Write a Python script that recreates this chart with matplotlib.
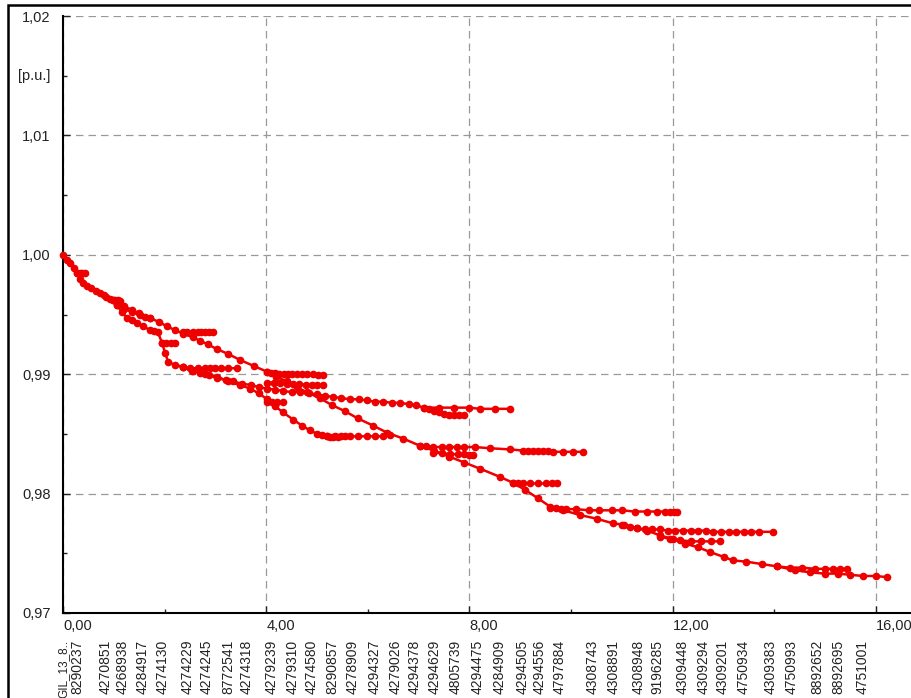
import matplotlib
matplotlib.use("Agg")
import matplotlib.pyplot as plt
import matplotlib.transforms as mtransforms
from matplotlib.patches import Rectangle

plt.rcParams['font.family'] = ['Liberation Sans', 'DejaVu Sans']

# --- voltage profile data: distance [km], voltage [p.u.] per feeder branch ---
trunk_d = [0.00, 0.07, 0.14, 0.21, 0.28, 0.34, 0.39, 0.47, 0.55, 0.64, 0.73, 0.80, 0.85, 0.92, 0.98, 1.06]
trunk_v = [1.0000, 0.9996, 0.9993, 0.9989, 0.9985, 0.9980, 0.9976, 0.9974, 0.9972, 0.9970, 0.9968, 0.9966, 0.9965, 0.9963, 0.9962, 0.9960]

stub1_d = [0.28, 0.33, 0.38, 0.43]
stub1_v = [0.9985, 0.9985, 0.9985, 0.9985]

stub2_d = [0.98, 1.03, 1.08, 1.12]
stub2_v = [0.9962, 0.9962, 0.9962, 0.9961]

main_d = [1.06, 1.20, 1.35, 1.50, 1.71, 1.88, 2.05, 2.20, 2.36, 2.55, 2.70, 2.85, 3.03, 3.25, 3.48, 3.75,
          4.02, 4.20, 4.40, 4.60, 4.80, 5.05, 5.30, 5.55, 5.80, 6.10, 6.38, 6.70, 7.03, 7.30, 7.60, 7.90,
          8.20, 8.60, 8.86, 9.10, 9.35, 9.59, 9.85, 10.18, 10.50, 10.83, 11.05, 11.30, 11.50, 11.75, 12.00,
          12.25, 12.50, 12.74, 13.00, 13.19, 13.45, 13.75, 14.06, 14.40, 14.70, 15.00, 15.25, 15.49, 15.75,
          16.00, 16.22]
main_v = [0.9960, 0.9957, 0.9954, 0.9951, 0.9947, 0.9944, 0.9940, 0.9937, 0.9934, 0.9931, 0.9928, 0.9925,
          0.9921, 0.9917, 0.9912, 0.9907, 0.9902, 0.9898, 0.9894, 0.9889, 0.9885, 0.9880, 0.9874, 0.9869,
          0.9863, 0.9857, 0.9851, 0.9846, 0.9840, 0.9836, 0.9831, 0.9826, 0.9821, 0.9814, 0.9809, 0.9803,
          0.9796, 0.9789, 0.9786, 0.9782, 0.9779, 0.9775, 0.9774, 0.9771, 0.9769, 0.9765, 0.9762, 0.9758,
          0.9755, 0.9751, 0.9747, 0.9744, 0.9743, 0.9741, 0.9739, 0.9736, 0.9734, 0.9733, 0.9733, 0.9732,
          0.9731, 0.9731, 0.9730]

br_9935_d = [2.36, 2.45, 2.55, 2.65, 2.72, 2.80, 2.88, 2.95]
br_9935_v = [0.9935, 0.9935, 0.9935, 0.9935, 0.9935, 0.9935, 0.9935, 0.9935]

upper_d = [1.06, 1.20, 1.35, 1.52, 1.62, 1.71]
upper_v = [0.9958, 0.9955, 0.9952, 0.9950, 0.9948, 0.9947]

lower_d = [1.06, 1.16, 1.26, 1.36, 1.46, 1.58, 1.71, 1.80, 1.87, 1.95, 2.01, 2.07, 2.20, 2.36, 2.55, 2.80,
           3.03, 3.25, 3.48, 3.68, 3.85, 4.02, 4.18, 4.33, 4.53, 4.70, 4.86, 5.00, 5.10, 5.20]
lower_v = [0.9958, 0.9952, 0.9947, 0.9945, 0.9943, 0.9940, 0.9937, 0.9936, 0.9935, 0.9926, 0.9918, 0.9910,
           0.9908, 0.9906, 0.9903, 0.9900, 0.9898, 0.9894, 0.9891, 0.9888, 0.9884, 0.9879, 0.9873, 0.9868,
           0.9862, 0.9857, 0.9853, 0.9850, 0.9849, 0.9848]

br_9848_d = [5.20, 5.26, 5.31, 5.36, 5.42, 5.48, 5.55, 5.65, 5.80, 5.98, 6.15, 6.30, 6.44]
br_9848_v = [0.9848, 0.9847, 0.9847, 0.9848, 0.9847, 0.9848, 0.9848, 0.9848, 0.9848, 0.9848, 0.9848, 0.9848, 0.9849]

br_9926_d = [1.95, 2.03, 2.12, 2.20]
br_9926_v = [0.9926, 0.9926, 0.9926, 0.9926]

br_9905_d = [2.36, 2.50, 2.65, 2.80, 2.90, 3.00, 3.10, 3.25, 3.43]
br_9905_v = [0.9906, 0.9905, 0.9905, 0.9905, 0.9905, 0.9905, 0.9905, 0.9905, 0.9905]

mid_d = [2.36, 2.53, 2.70, 2.87, 3.03, 3.20, 3.35, 3.52, 3.70, 3.86, 4.02, 4.18, 4.33, 4.50, 4.67, 4.84,
         5.00, 5.15, 5.31, 5.48, 5.65, 5.82, 5.98, 6.15, 6.30, 6.48, 6.63, 6.80, 6.95, 7.10, 7.20, 7.30,
         7.40, 7.50, 7.60, 7.70, 7.80, 7.90]
mid_v = [0.9906, 0.9903, 0.9901, 0.9899, 0.9897, 0.9895, 0.9894, 0.9892, 0.9891, 0.9889, 0.9888, 0.9887,
         0.9886, 0.9885, 0.9885, 0.9884, 0.9883, 0.9882, 0.9881, 0.9880, 0.9879, 0.9879, 0.9878, 0.9877,
         0.9877, 0.9876, 0.9876, 0.9875, 0.9874, 0.9872, 0.9871, 0.9869, 0.9868, 0.9867, 0.9866, 0.9866,
         0.9866, 0.9866]

br_9872_d = [7.10, 7.40, 7.70, 8.00, 8.20, 8.50, 8.80]
br_9872_v = [0.9872, 0.9872, 0.9872, 0.9872, 0.9871, 0.9871, 0.9871]

br_9893_d = [4.02, 4.15, 4.28, 4.40, 4.52, 4.65, 4.78, 4.90, 5.00, 5.12]
br_9893_v = [0.9893, 0.9893, 0.9893, 0.9892, 0.9892, 0.9892, 0.9891, 0.9891, 0.9891, 0.9891]

br_9900_d = [4.02, 4.10, 4.18, 4.26, 4.34, 4.42, 4.50, 4.60, 4.70, 4.80, 4.92, 5.02, 5.12]
br_9900_v = [0.9902, 0.9901, 0.9901, 0.9900, 0.9900, 0.9900, 0.9900, 0.9900, 0.9900, 0.9900, 0.9900, 0.9899, 0.9899]

br_9877_d = [4.02, 4.12, 4.22, 4.33]
br_9877_v = [0.9877, 0.9877, 0.9877, 0.9877]

br_9838_d = [7.03, 7.15, 7.28, 7.45, 7.60, 7.75, 7.90, 8.10, 8.40, 8.80, 9.06, 9.15, 9.25, 9.35, 9.45,
             9.55, 9.65, 9.84, 10.04, 10.24]
br_9838_v = [0.9840, 0.9840, 0.9839, 0.9839, 0.9839, 0.9839, 0.9839, 0.9839, 0.9838, 0.9837, 0.9836,
             0.9836, 0.9836, 0.9836, 0.9836, 0.9836, 0.9835, 0.9835, 0.9835, 0.9835]

br_9833_d = [7.28, 7.45, 7.62, 7.78, 7.90, 8.00, 8.07]
br_9833_v = [0.9834, 0.9834, 0.9833, 0.9833, 0.9833, 0.9832, 0.9832]

br_9809_d = [8.86, 8.95, 9.05, 9.20, 9.35, 9.50, 9.62, 9.72]
br_9809_v = [0.9809, 0.9809, 0.9809, 0.9809, 0.9809, 0.9809, 0.9809, 0.9809]

br_9786_d = [9.59, 9.70, 9.80, 9.90, 10.10, 10.35, 10.55, 10.80, 11.00, 11.25, 11.50, 11.70, 11.85, 11.95,
             12.02, 12.09]
br_9786_v = [0.9788, 0.9788, 0.9787, 0.9787, 0.9787, 0.9786, 0.9786, 0.9786, 0.9786, 0.9785, 0.9785,
             0.9785, 0.9785, 0.9785, 0.9785, 0.9785]

br_9768_d = [11.00, 11.15, 11.30, 11.45, 11.60, 11.75, 11.90, 12.05, 12.20, 12.35, 12.50, 12.65, 12.80,
             12.95, 13.10, 13.25, 13.40, 13.55, 13.70, 13.98]
br_9768_v = [0.9774, 0.9772, 0.9771, 0.9770, 0.9770, 0.9770, 0.9769, 0.9769, 0.9769, 0.9769, 0.9769,
             0.9769, 0.9768, 0.9768, 0.9768, 0.9768, 0.9768, 0.9768, 0.9768, 0.9768]

br_9760_d = [11.75, 11.95, 12.15, 12.35, 12.55, 12.75, 12.93]
br_9760_v = [0.9764, 0.9762, 0.9761, 0.9760, 0.9760, 0.9760, 0.9760]

br_end_d = [14.06, 14.30, 14.55, 14.80, 15.00, 15.15, 15.30, 15.43]
br_end_v = [0.9739, 0.9738, 0.9738, 0.9737, 0.9737, 0.9737, 0.9737, 0.9737]

# node names shown along the distance axis
node_names = ['GIL_13_8..', '8290237', '4270851', '4268938', '4284917', '4274130', '4274229', '4274245',
              '8772541', '4274318', '4279239', '4279310', '4274580', '8290857', '4278909', '4294327',
              '4279026', '4294378', '4294629', '4805739', '4294475', '4284909', '4294505', '4294556',
              '4797884', '4308743', '4308891', '4308948', '9196285', '4309448', '4309294', '4309201',
              '4750934', '4309383', '4750993', '8892652', '8892695', '4751001']
node_dist = [0.00, 0.28, 0.83, 1.18, 1.57, 1.97, 2.46, 2.83, 3.25, 3.62, 4.11, 4.51, 4.90, 5.30, 5.71,
             6.14, 6.54, 6.93, 7.32, 7.72, 8.17, 8.60, 9.04, 9.39, 9.78, 10.43, 10.83, 11.32, 11.69,
             12.20, 12.60, 12.99, 13.39, 13.92, 14.35, 14.84, 15.26, 15.73]

x_ticks = [0, 4, 8, 12, 16]
x_labels = ['0,00', '4,00', '8,00', '12,00', '16,00']
y_ticks = [0.97, 0.98, 0.99, 1.00, 1.01, 1.02]
y_labels = ['0,97', '0,98', '0,99', '1,00', '1,01', '1,02']

branches = [
    (trunk_d, trunk_v), (stub1_d, stub1_v), (stub2_d, stub2_v), (main_d, main_v),
    (br_9935_d, br_9935_v), (upper_d, upper_v), (lower_d, lower_v), (br_9848_d, br_9848_v),
    (br_9926_d, br_9926_v), (br_9905_d, br_9905_v), (mid_d, mid_v), (br_9872_d, br_9872_v),
    (br_9893_d, br_9893_v), (br_9900_d, br_9900_v), (br_9877_d, br_9877_v), (br_9838_d, br_9838_v),
    (br_9833_d, br_9833_v), (br_9809_d, br_9809_v), (br_9786_d, br_9786_v), (br_9768_d, br_9768_v),
    (br_9760_d, br_9760_v), (br_end_d, br_end_v),
]

RED = '#ee0000'

fig = plt.figure(figsize=(9.11, 6.98), dpi=100)
ax = fig.add_axes([63 / 911, 1 - 613 / 698, 847 / 911, 597 / 698])

for d, v in branches:
    ax.plot(d, v, color=RED, lw=1.8, marker='o', ms=4.5, mfc=RED, mec=RED, zorder=3, clip_on=False)

ax.set_xlim(0, 16.67)
ax.set_ylim(0.97, 1.02)

ax.set_xticks(x_ticks)
ax.set_xticklabels(x_labels, ha='left')
ax.set_xticks([2, 6, 10, 14], minor=True)
ax.set_yticks(y_ticks)
ax.set_yticklabels(y_labels)
ax.set_yticks([0.975, 0.985, 0.995, 1.005, 1.015], minor=True)

offset = mtransforms.ScaledTranslation(3 / 100, 0, fig.dpi_scale_trans)
for lab in ax.get_xticklabels():
    lab.set_transform(lab.get_transform() + offset)

ax.tick_params(which='both', direction='in', width=1, colors='#222222', labelsize=10.5)
ax.tick_params(which='major', length=5)
ax.tick_params(which='minor', length=3)
ax.tick_params(axis='y', pad=9)
ax.tick_params(axis='x', pad=4)

ax.grid(True, which='major', color='#999999', lw=0.9, ls=(0, (6, 4)))
ax.spines['top'].set_visible(False)
ax.spines['right'].set_visible(False)
ax.spines['left'].set_linewidth(1.5)
ax.spines['bottom'].set_linewidth(1.5)

ytrans = mtransforms.blended_transform_factory(ax.transAxes, ax.transData)
ax.text(-0.015, 1.015, '[p.u.]', transform=ytrans, ha='right', va='center', fontsize=10.5, color='#222222')

xtrans = mtransforms.blended_transform_factory(ax.transData, ax.transAxes)
for name, d in zip(node_names, node_dist):
    size = 8.5 if not name.isdigit() else 10
    ax.text(d, -0.045, name, transform=xtrans, rotation=90, ha='center', va='top',
            fontsize=size, color='#222222', clip_on=False)

# outer frame of the exported graphic
fig.add_artist(Rectangle((8 / 911, -0.1), 1.2, 1 - 5 / 698 + 0.1, transform=fig.transFigure,
                         fill=False, lw=1.8, ec='black'))

fig.savefig('out.png', dpi=100)
